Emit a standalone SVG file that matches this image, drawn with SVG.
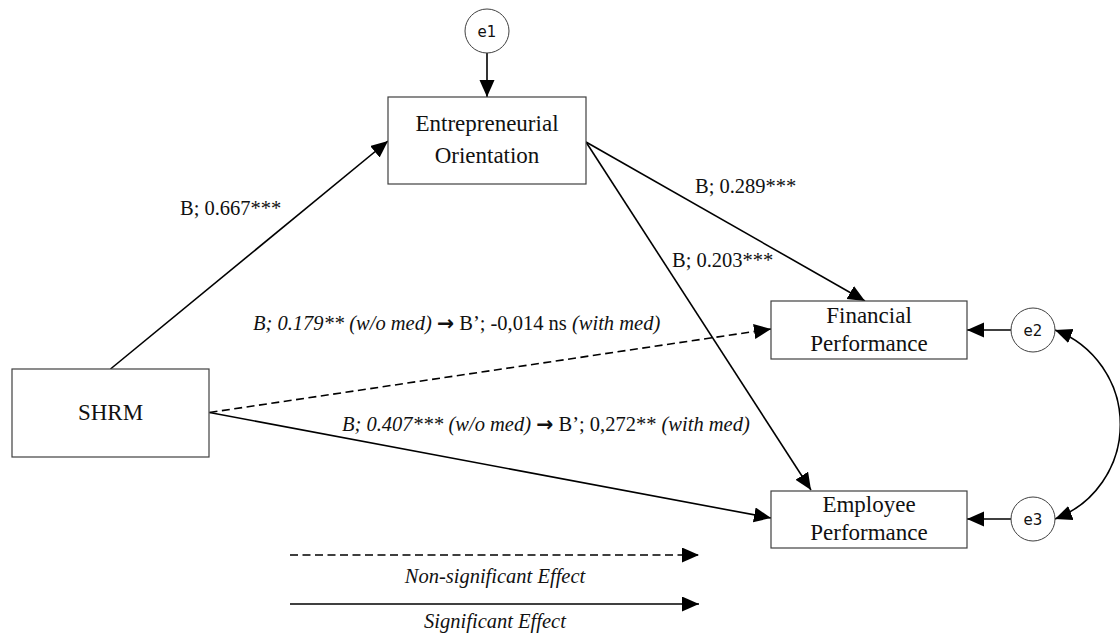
<svg xmlns="http://www.w3.org/2000/svg" width="1120" height="636" viewBox="0 0 1120 636">
<style>
.box{fill:#fff;stroke:#404040;stroke-width:1.2}
.circ{fill:#fff;stroke:#404040;stroke-width:1}
.nt{font-family:"Liberation Serif","Times New Roman",serif;font-size:23px;fill:#111;text-anchor:middle}
.et{font-family:"DejaVu Sans",sans-serif;font-size:15px;fill:#111;text-anchor:middle}
.lb{font-family:"Liberation Serif","Times New Roman",serif;font-size:20.5px;fill:#111}
.it{font-style:italic}
.ar{font-family:"DejaVu Sans",sans-serif;font-weight:bold;font-style:normal}
.ln{fill:none;stroke:#000;stroke-width:1.6}
.dash{stroke-dasharray:8 4.5}
</style>
<defs>
<marker id="ah" markerUnits="userSpaceOnUse" markerWidth="20" markerHeight="16" refX="17" refY="7.5" orient="auto-start-reverse">
<path d="M0,0 L17,7.5 L0,15 Z" fill="#000"/>
</marker>
</defs>
<g id="connectors">
<line class="ln" x1="487" y1="53" x2="487" y2="97" marker-end="url(#ah)"/>
<line class="ln" x1="110.5" y1="369" x2="388" y2="141" marker-end="url(#ah)"/>
<line class="ln" x1="586" y1="142" x2="865" y2="301" marker-end="url(#ah)"/>
<line class="ln" x1="586" y1="142" x2="811" y2="490" marker-end="url(#ah)"/>
<line class="ln dash" x1="209.5" y1="412.5" x2="771" y2="329" marker-end="url(#ah)"/>
<line class="ln" x1="209.5" y1="412.5" x2="771" y2="518" marker-end="url(#ah)"/>
<line class="ln" x1="1011" y1="330" x2="967" y2="330" marker-end="url(#ah)"/>
<line class="ln" x1="1011" y1="519" x2="967" y2="519" marker-end="url(#ah)"/>
<path class="ln" d="M1055,330 A101,101 0 0 1 1055,519" marker-start="url(#ah)" marker-end="url(#ah)"/>
</g>
<g id="labels">
<text class="lb" x="180" y="215">B; 0.667***</text>
<text class="lb" x="695" y="193">B; 0.289***</text>
<text class="lb" x="672" y="267">B; 0.203***</text>
<text class="lb" x="253" y="330"><tspan class="it">B; 0.179** (w/o med) </tspan><tspan class="ar">→</tspan> B’; -0,014 ns <tspan class="it">(with med)</tspan></text>
<text class="lb" x="342" y="431"><tspan class="it">B; 0.407*** (w/o med) </tspan><tspan class="ar">→</tspan> B’; 0,272** <tspan class="it">(with med)</tspan></text>
</g>
<g id="node-e1"><circle class="circ" cx="487" cy="31" r="22"/><text class="et" x="487" y="36.5">e1</text></g>
<g id="node-eo"><rect class="box" x="388" y="97" width="198" height="87"/><text class="nt" x="487" y="131">Entrepreneurial</text><text class="nt" x="487" y="163">Orientation</text></g>
<g id="node-shrm"><rect class="box" x="12" y="369" width="197" height="88"/><text class="nt" x="110.5" y="420">SHRM</text></g>
<g id="node-fp"><rect class="box" x="771" y="301" width="196" height="58"/><text class="nt" x="869" y="323">Financial</text><text class="nt" x="869" y="351">Performance</text></g>
<g id="node-ep"><rect class="box" x="771" y="491" width="196" height="57"/><text class="nt" x="869" y="512">Employee</text><text class="nt" x="869" y="540">Performance</text></g>
<g id="node-e2"><circle class="circ" cx="1033" cy="330" r="22"/><text class="et" x="1033" y="335.5">e2</text></g>
<g id="node-e3"><circle class="circ" cx="1033" cy="519" r="22"/><text class="et" x="1033" y="524.5">e3</text></g>
<g id="legend">
<line class="ln dash" x1="290" y1="555" x2="699" y2="555" marker-end="url(#ah)"/>
<text class="lb it" x="495" y="583" text-anchor="middle">Non-significant Effect</text>
<line class="ln" x1="290" y1="604" x2="699" y2="604" marker-end="url(#ah)"/>
<text class="lb it" x="495" y="628" text-anchor="middle">Significant Effect</text>
</g>
</svg>
